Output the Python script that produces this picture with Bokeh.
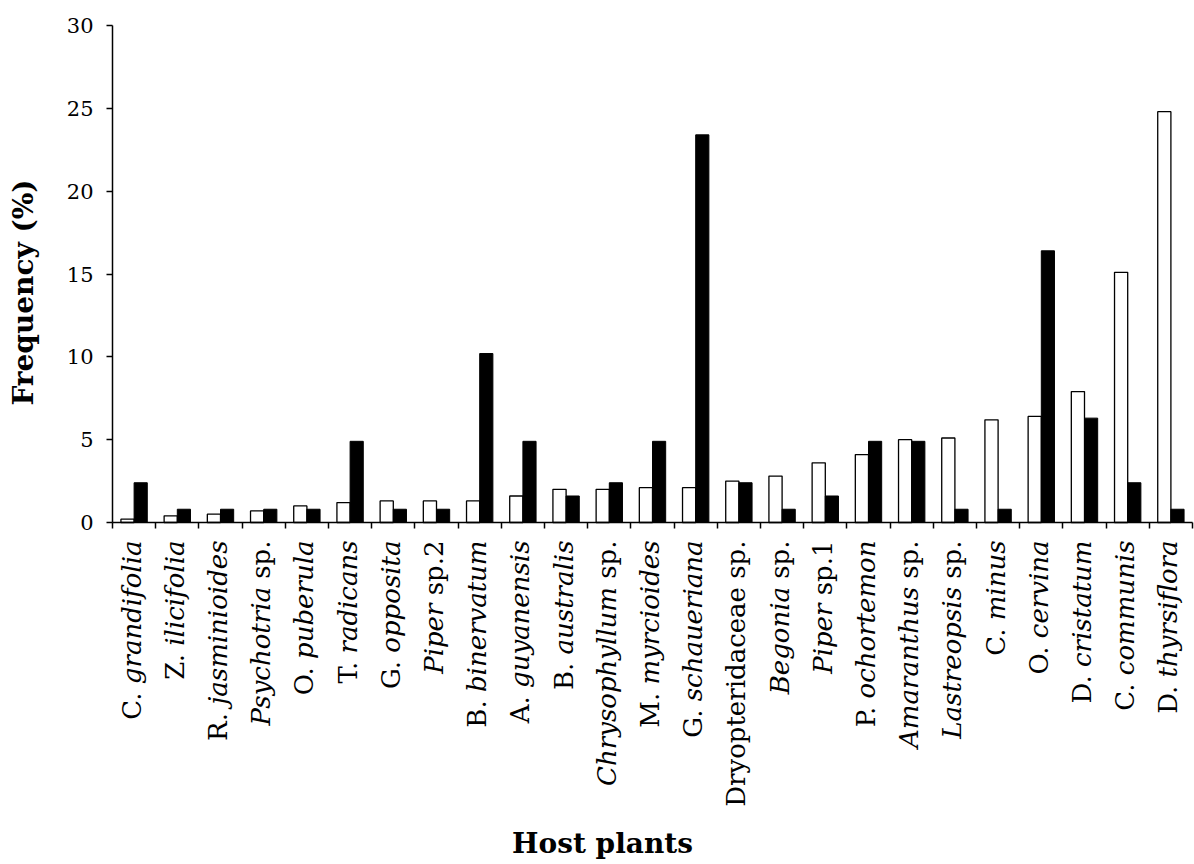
import glob
import math
import os

from bokeh.embed import file_html
from bokeh.models import FixedTicker, Label, LinearAxis, Range1d
from bokeh.plotting import figure
from bokeh.resources import INLINE

# Host plants, ordered by the frequency of the open series
categories = [
    "C. grandifolia", "Z. ilicifolia", "R. jasminioides", "Psychotria sp.",
    "O. puberula", "T. radicans", "G. opposita", "Piper sp.2",
    "B. binervatum", "A. guyanensis", "B. australis", "Chrysophyllum sp.",
    "M. myrcioides", "G. schaueriana", "Dryopteridaceae sp.", "Begonia sp.",
    "Piper sp.1", "P. ochortemon", "Amaranthus sp.", "Lastreopsis sp.",
    "C. minus", "O. cervina", "D. cristatum", "C. communis", "D. thyrsiflora",
]
# Frequency (%) — open bars
frequency_open = [
    0.2, 0.4, 0.5, 0.7, 1.0, 1.2, 1.3, 1.3, 1.3, 1.6, 2.0, 2.0, 2.1,
    2.1, 2.5, 2.8, 3.6, 4.1, 5.0, 5.1, 6.2, 6.4, 7.9, 15.1, 24.8,
]
# Frequency (%) — filled bars
frequency_filled = [
    2.4, 0.8, 0.8, 0.8, 0.8, 4.9, 0.8, 0.8, 10.2, 4.9, 1.6, 2.4, 4.9,
    23.4, 2.4, 0.8, 1.6, 4.9, 4.9, 0.8, 0.8, 16.4, 6.3, 2.4, 0.8,
]
y_ticks = [0, 5, 10, 15, 20, 25, 30]
y_max = 30
x_title = "Host plants"
y_title = "Frequency (%)"
# names printed entirely in roman type
upright_names = {"Dryopteridaceae sp."}

W, H = 1194, 864
# margins (px) around the data area, kept inside the drawing frame
LEFT, RIGHT, TOP, BOTTOM = 112, 2, 25, 342
SERIF = "DejaVu Serif"
LABEL_SIZE = 26
TITLE_SIZE = 28

n = len(categories)
ppx = (W - LEFT - RIGHT) / n           # pixels per category
ppu = (H - TOP - BOTTOM) / y_max       # pixels per percent
frame_bottom = H - BOTTOM

p = figure(
    width=W, height=H,
    x_range=Range1d(-LEFT / ppx, n + RIGHT / ppx),
    y_range=Range1d(-BOTTOM / ppu, y_max + TOP / ppu),
    output_backend="svg", toolbar_location=None, title=None,
    x_axis_location=None, y_axis_location=None,
    min_border_left=0, min_border_right=0, min_border_top=0, min_border_bottom=0,
)
p.outline_line_color = None
p.background_fill_color = "white"
p.border_fill_color = "white"
p.xgrid.visible = False
p.ygrid.visible = False

# paired bars: open on the left, filled on the right of each category
bw = 0.305
centers = [i + 0.5 for i in range(n)]
p.vbar(x=[c - bw / 2 for c in centers], width=bw, bottom=0, top=frequency_open,
       fill_color="white", line_color="black", line_width=1.3)
p.vbar(x=[c + bw / 2 for c in centers], width=bw, bottom=0, top=frequency_filled,
       fill_color="black", line_color="black", line_width=1)

# x axis at y = 0: ticks on category boundaries, names drawn separately
xa = LinearAxis(fixed_location=0, bounds=(0, n),
                ticker=FixedTicker(ticks=list(range(n + 1))))
xa.major_label_overrides = {i: "" for i in range(n + 1)}
xa.major_label_text_font_size = "1px"
xa.major_tick_in = 0
xa.major_tick_out = 6
xa.minor_tick_line_color = None
xa.axis_line_width = 1.5
xa.major_tick_line_width = 1.5
xa.axis_line_color = "black"
xa.major_tick_line_color = "black"
p.add_layout(xa, "below")

# y axis at x = 0
ya = LinearAxis(fixed_location=0, bounds=(0, y_max), ticker=FixedTicker(ticks=y_ticks))
ya.major_label_text_font = SERIF
ya.major_label_text_font_size = "21px"
ya.major_label_text_color = "black"
ya.major_label_standoff = 13
ya.major_tick_in = 0
ya.major_tick_out = 6
ya.minor_tick_line_color = None
ya.axis_line_width = 1.5
ya.major_tick_line_width = 1.5
ya.axis_line_color = "black"
ya.major_tick_line_color = "black"
p.add_layout(ya, "left")


def font_file(style):
    names = {"normal": "DejaVuSerif.ttf", "italic": "DejaVuSerif-Italic.ttf",
             "bold": "DejaVuSerif-Bold.ttf"}
    for root in ("/usr/share/fonts", "/usr/local/share/fonts",
                 os.path.expanduser("~/.fonts"), os.path.expanduser("~/.local/share/fonts")):
        hits = glob.glob(os.path.join(root, "**", names[style]), recursive=True)
        if hits:
            return hits[0]
    return None


def text_width(s, style, size):
    try:
        from PIL import ImageFont
        path = font_file(style)
        if path:
            return ImageFont.truetype(path, size).getlength(s)
    except Exception:
        pass
    return 0.58 * size * len(s)


def split_label(name):
    if name in upright_names:
        return [(name, "normal")]
    parts = []
    for w in name.split(" "):
        abbreviated = len(w) == 2 and w.endswith(".")
        style = "normal" if (abbreviated or w.startswith("sp.")) else "italic"
        parts.append((w, style))
    return parts


# category names, read bottom to top, ending just under the axis
space = text_width(" ", "normal", LABEL_SIZE)
for i, name in enumerate(categories):
    offset = 18.0  # pixels below the x axis where the name ends
    x = centers[i] - 2.5 / ppx
    for word, style in reversed(split_label(name)):
        p.add_layout(Label(
            x=x, y=-offset / ppu, text=word, angle=math.pi / 2,
            text_font=SERIF, text_font_size=f"{LABEL_SIZE}px", text_font_style=style,
            text_color="black", text_align="right", text_baseline="alphabetic",
        ))
        offset += text_width(word, style, LABEL_SIZE) + space

p.add_layout(Label(
    x=(23 - LEFT) / ppx, y=(frame_bottom - 292) / ppu, text=y_title, angle=math.pi / 2,
    text_font=SERIF, text_font_size=f"{TITLE_SIZE}px", text_font_style="bold",
    text_color="black", text_align="center", text_baseline="alphabetic",
))
p.add_layout(Label(
    x=(602 - LEFT) / ppx, y=(frame_bottom - 843) / ppu, text=x_title,
    text_font=SERIF, text_font_size=f"{TITLE_SIZE}px", text_font_style="bold",
    text_color="black", text_align="center", text_baseline="alphabetic",
))

open("out.html", "w").write(file_html(p, INLINE))
